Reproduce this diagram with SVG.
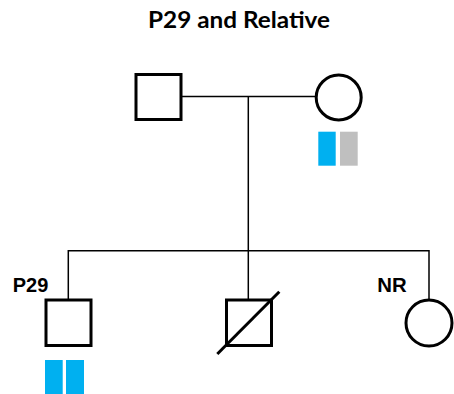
<svg xmlns="http://www.w3.org/2000/svg" width="454" height="394" viewBox="0 0 454 394">
<style>
.sym{fill:#fff;stroke:#000;stroke-width:3}
.ln{fill:none;stroke:#000;stroke-width:1.5}
.lbl{font-family:"Liberation Sans",Arial,sans-serif;font-weight:bold;font-size:19.5px;fill:#000}
.blue{fill:#00B0F0}
.gray{fill:#BFBFBF}
</style>
<rect width="454" height="394" fill="#fff"/>
<text x="239" y="28.3" text-anchor="middle" font-family="Lato,'Open Sans',sans-serif" font-weight="bold" font-size="22" textLength="182" lengthAdjust="spacingAndGlyphs">P29 and Relative</text>
<g id="connectors">
<path class="ln" d="M181 96.5H316"/>
<path class="ln" d="M248.3 96.5V299"/>
<path class="ln" d="M68.3 299V250.7H429V299"/>
</g>
<g id="father"><rect class="sym" x="136" y="74.5" width="45" height="45"/></g>
<g id="mother"><circle class="sym" cx="338.7" cy="97.5" r="22.5"/>
<rect class="blue" x="318.3" y="131.7" width="17.4" height="34"/>
<rect class="gray" x="340" y="131.7" width="17.7" height="34"/></g>
<g id="p29"><rect class="sym" x="46" y="300" width="45" height="45.5"/>
<text class="lbl" x="12.7" y="292.3" textLength="35.6" lengthAdjust="spacingAndGlyphs">P29</text>
<rect class="blue" x="45" y="360" width="17.7" height="34"/>
<rect class="blue" x="66" y="360" width="18" height="34"/></g>
<g id="deceased"><rect class="sym" x="226.5" y="300" width="45" height="45.5"/>
<path class="sym" d="M217.3 354L279.3 291.7" fill="none"/></g>
<g id="nr"><circle class="sym" cx="429" cy="323" r="23"/>
<text class="lbl" x="377.3" y="292.3" textLength="29.4" lengthAdjust="spacingAndGlyphs">NR</text></g>
</svg>
